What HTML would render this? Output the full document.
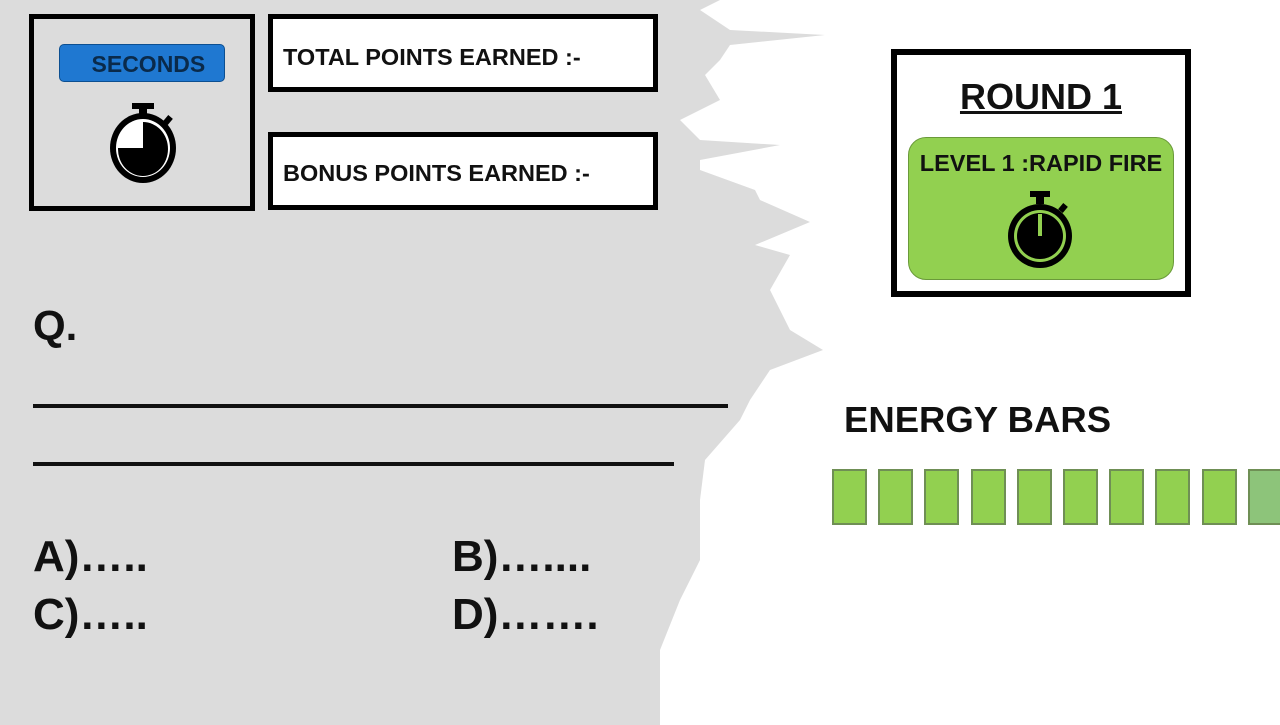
<!DOCTYPE html>
<html><head><meta charset="utf-8"><style>
body{margin:0;width:1280px;height:725px;overflow:hidden;background:#fff;font-family:"Liberation Sans",Arial,sans-serif;position:relative}
.abs{position:absolute}
.box{position:absolute;border:5px solid #000;box-sizing:border-box;background:#fff}
.lbl{font-weight:bold;font-size:23.5px;color:#111}
.big{font-size:44px;color:#111;font-weight:bold}
</style></head><body>
<svg class="abs" style="left:0;top:0" width="1280" height="725">
<polygon fill="#dcdcdc" points="0,0 720,0 700,10 730,30 825,35 730,45 720,60 705,75 720,100 680,120 700,140 780,145 700,160 700,170 755,190 760,200 810,222 755,245 790,255 770,290 790,330 823,350 770,370 750,400 740,420 705,460 700,500 700,560 680,600 660,650 660,725 0,725"/>
</svg>
<div class="box" style="left:29px;top:14px;width:226px;height:197px;background:#dcdcdc"></div>
<div class="abs" style="left:59px;top:44px;width:166px;height:38px;background:#1f78d1;border:1px solid #0c4f91;border-radius:5px;box-sizing:border-box;text-align:center;line-height:38px;font-weight:bold;font-size:23px;color:#0a2a4a">&nbsp;&nbsp;SECONDS</div>
<svg class="abs" style="left:103px;top:100px" width="80" height="85">
<rect x="29" y="3" width="22" height="6" fill="#000"/><rect x="36" y="8" width="8" height="8" fill="#000"/>
<rect x="62" y="16" width="6" height="8" fill="#000" transform="rotate(40 65 20)"/>
<ellipse cx="40" cy="48" rx="33" ry="35" fill="#000"/><ellipse cx="40" cy="48" rx="27" ry="29" fill="#fff"/>
<path d="M40 48 L40 22 A25 27 0 1 1 15 48 Z" fill="#000"/>
</svg>
<div class="box" style="left:268px;top:14px;width:390px;height:78px"><div class="lbl" style="position:absolute;left:10px;top:25px">TOTAL POINTS EARNED :-</div></div>
<div class="box" style="left:268px;top:132px;width:390px;height:78px"><div class="lbl" style="position:absolute;left:10px;top:23px">BONUS POINTS EARNED :-</div></div>
<div class="big abs" style="left:33px;top:302px;font-size:42px">Q.</div>
<div class="abs" style="left:33px;top:404px;width:695px;height:4px;background:#111"></div>
<div class="abs" style="left:33px;top:462px;width:641px;height:4px;background:#111"></div>
<div class="big abs" style="left:33px;top:532px">A)…..</div>
<div class="big abs" style="left:452px;top:532px">B)…....</div>
<div class="big abs" style="left:33px;top:590px">C)…..</div>
<div class="big abs" style="left:452px;top:590px">D)…….</div>
<div class="box" style="left:891px;top:49px;width:300px;height:248px;border-width:6px"></div>
<div class="abs" style="left:891px;top:76px;width:300px;text-align:center;font-weight:bold;font-size:36px;text-decoration:underline;text-decoration-thickness:3px;color:#111">ROUND 1</div>
<div class="abs" style="left:908px;top:137px;width:266px;height:143px;background:#92d050;border:1px solid #6a9a3a;border-radius:18px;box-sizing:border-box"></div>
<div class="abs lbl" style="left:908px;top:150px;width:266px;text-align:center;font-size:23.5px">LEVEL 1 :RAPID FIRE</div>
<svg class="abs" style="left:1003px;top:188px" width="76" height="84">
<rect x="27" y="3" width="20" height="6" fill="#000"/><rect x="33" y="8" width="8" height="8" fill="#000"/>
<rect x="57" y="16" width="6" height="8" fill="#000" transform="rotate(40 60 20)"/>
<circle cx="37" cy="48" r="32" fill="#000"/><circle cx="37" cy="48" r="26" fill="#92d050"/><circle cx="37" cy="48" r="23" fill="#000"/>
<rect x="35" y="26" width="4" height="22" fill="#92d050"/>
</svg>
<div class="abs" style="left:844px;top:399px;font-weight:bold;font-size:36.5px;color:#111">ENERGY BARS</div>
<div id="bars"></div>
<script>
const barIndex=[0,1,2,3,4,5,6,7,8,9];
const barFull=[1,1,1,1,1,1,1,1,1,0.6];
const c=document.getElementById('bars');
barIndex.forEach((i)=>{
  const d=document.createElement('div');
  
  
  const x=832+i*46.2;
  d.style.cssText=`position:absolute;left:${x}px;top:469px;width:35px;height:56px;box-sizing:border-box;border:2px solid #6f8f55;background:${barFull[i]>=1?'#92d050':'#8dc47a'}`;
  c.appendChild(d);
});
</script>
</body></html>
